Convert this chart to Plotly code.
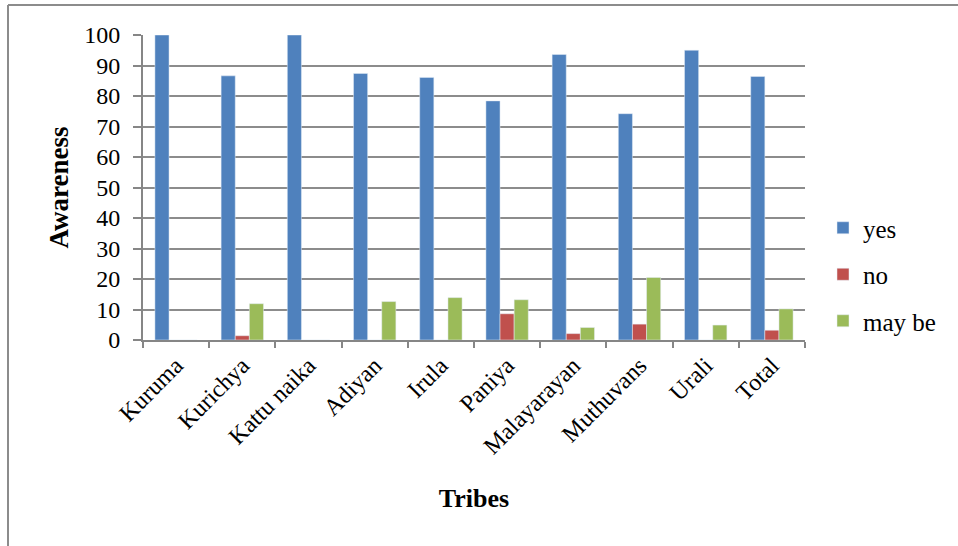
import plotly.graph_objects as go

tribes = ["Kuruma", "Kurichya", "Kattu naika", "Adiyan", "Irula", "Paniya",
          "Malayarayan", "Muthuvans", "Urali", "Total"]
yes_vals = [100, 86.6, 100, 87.4, 86.1, 78.4, 93.6, 74.2, 95.0, 86.4]
no_vals = [0, 1.4, 0, 0, 0, 8.6, 2.1, 5.2, 0, 3.2]
maybe_vals = [0, 11.9, 0, 12.6, 13.9, 13.2, 4.1, 20.5, 4.9, 10.2]

serif = "Times New Roman, Liberation Serif, serif"

fig = go.Figure()
fig.add_trace(go.Bar(x=tribes, y=yes_vals, name="yes", marker_color="#4F81BD", legendgroup="a"))
fig.add_trace(go.Bar(x=tribes, y=no_vals, name="no", marker_color="#C0504D", legendgroup="b"))
fig.add_trace(go.Bar(x=tribes, y=maybe_vals, name="may be", marker_color="#9BBB59", legendgroup="c"))

# plot area in pixels: x 143..805, y 35..340
L, R, T, B = 143, 805, 35, 340
W, H = R - L, B - T

def px_x(p):
    return (p - L) / W

def px_y(p):
    return (B - p) / H

fig.update_layout(
    width=958, height=546,
    margin=dict(l=L, r=958 - R, t=T, b=546 - B, autoexpand=False),
    paper_bgcolor="white", plot_bgcolor="white",
    font=dict(family=serif, size=24, color="black"),
    barmode="group", bargap=0.36, bargroupgap=0,
    showlegend=True,
    legend=dict(x=px_x(823), y=px_y(205), xanchor="left", yanchor="top",
                font=dict(family=serif, size=25), tracegroupgap=11, itemwidth=30,
                bgcolor="rgba(0,0,0,0)"),
    xaxis=dict(
        title=dict(text="<b>Tribes</b>", font=dict(family=serif, size=26), standoff=30),
        tickangle=-45, showgrid=False, showline=True, linecolor="#868686", linewidth=2,
        ticks="outside", tickson="boundaries", ticklen=6, tickcolor="#868686", tickwidth=2,
        tickfont=dict(family=serif, size=24), automargin=False,
    ),
    yaxis=dict(
        title=dict(text="<b>Awareness</b>", font=dict(family=serif, size=27), standoff=8),
        range=[0, 100], dtick=10, showgrid=True, gridcolor="#8C8C8C", gridwidth=2,
        showline=True, linecolor="#868686", linewidth=2,
        ticks="outside", ticklen=8, tickcolor="#868686", tickwidth=2,
        tickfont=dict(family=serif, size=24), zeroline=False, automargin=False,
        ticklabelstandoff=8,
    ),
)

# outer chart frame (top and left edges visible)
fig.add_shape(type="line", xref="paper", yref="paper",
              x0=px_x(8), x1=px_x(960), y0=px_y(5), y1=px_y(5),
              line=dict(color="#8C8C8C", width=2))
fig.add_shape(type="line", xref="paper", yref="paper",
              x0=px_x(8), x1=px_x(8), y0=px_y(5), y1=px_y(550),
              line=dict(color="#8C8C8C", width=2))

fig.write_html("out.html", config={"displayModeBar": False},
               post_script="document.body.style.margin='0';")
